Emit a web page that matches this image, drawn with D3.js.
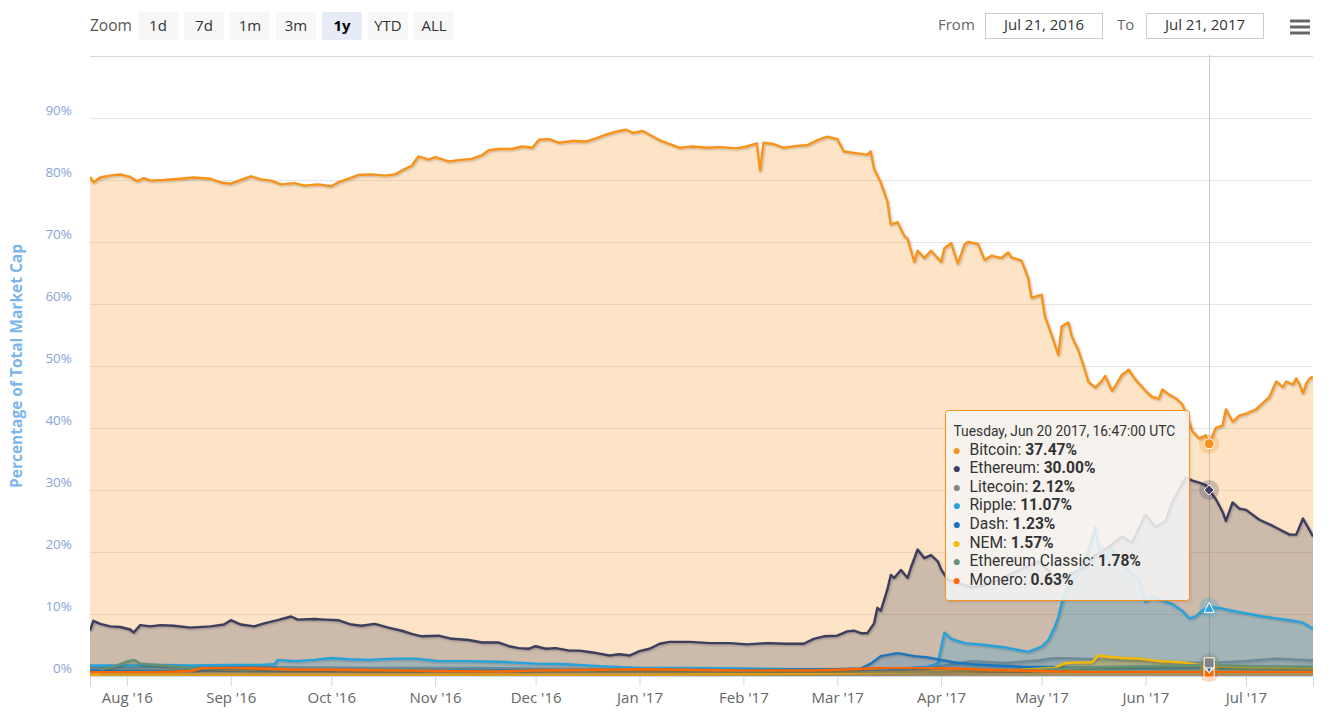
<!DOCTYPE html>
<html>
<head>
<meta charset="utf-8">
<script src="https://cdnjs.cloudflare.com/ajax/libs/d3/7.8.5/d3.min.js"></script>
<style>
  body { margin: 0; background: #fff; }
  svg { display: block; font-family: "Open Sans", sans-serif; }
</style>
</head>
<body>
<svg id="chart"></svg>
<script>
// percentage of total market cap
const bitcoin = [["2016-07-21",80.5],["2016-07-22",79.6],["2016-07-24",80.4],["2016-07-27",80.7],["2016-07-30",80.9],["2016-08-02",80.5],["2016-08-04",79.8],["2016-08-06",80.3],["2016-08-08",79.9],["2016-08-12",80.0],["2016-08-17",80.2],["2016-08-21",80.4],["2016-08-26",80.2],["2016-08-29",79.6],["2016-09-01",79.4],["2016-09-04",80.0],["2016-09-07",80.6],["2016-09-10",80.1],["2016-09-13",79.9],["2016-09-16",79.3],["2016-09-20",79.5],["2016-09-23",79.1],["2016-09-27",79.3],["2016-10-01",79.0],["2016-10-03",79.6],["2016-10-06",80.2],["2016-10-09",80.8],["2016-10-13",80.9],["2016-10-17",80.7],["2016-10-20",80.9],["2016-10-22",81.5],["2016-10-25",82.3],["2016-10-27",83.8],["2016-10-30",83.3],["2016-11-01",83.7],["2016-11-05",83.0],["2016-11-08",83.2],["2016-11-12",83.4],["2016-11-15",84.0],["2016-11-17",84.8],["2016-11-20",85.0],["2016-11-24",85.0],["2016-11-27",85.4],["2016-11-30",85.2],["2016-12-02",86.5],["2016-12-05",86.6],["2016-12-08",86.0],["2016-12-12",86.3],["2016-12-16",86.2],["2016-12-19",86.7],["2016-12-22",87.3],["2016-12-25",87.8],["2016-12-28",88.1],["2016-12-30",87.6],["2017-01-02",87.9],["2017-01-04",87.3],["2017-01-07",86.4],["2017-01-10",85.8],["2017-01-13",85.2],["2017-01-17",85.4],["2017-01-21",85.2],["2017-01-25",85.3],["2017-01-30",85.1],["2017-02-02",85.4],["2017-02-05",85.9],["2017-02-06",81.5],["2017-02-07",86.0],["2017-02-10",85.8],["2017-02-13",85.2],["2017-02-17",85.5],["2017-02-20",85.6],["2017-02-23",86.4],["2017-02-26",87.0],["2017-03-01",86.6],["2017-03-03",84.6],["2017-03-07",84.3],["2017-03-10",84.1],["2017-03-11",84.6],["2017-03-12",81.8],["2017-03-14",79.6],["2017-03-16",76.5],["2017-03-17",72.8],["2017-03-19",73.2],["2017-03-21",71.0],["2017-03-22",70.5],["2017-03-24",66.8],["2017-03-25",68.6],["2017-03-27",67.4],["2017-03-29",68.6],["2017-04-01",66.8],["2017-04-02",69.0],["2017-04-04",69.8],["2017-04-06",66.5],["2017-04-08",69.6],["2017-04-09",70.0],["2017-04-12",69.7],["2017-04-14",67.1],["2017-04-16",67.8],["2017-04-19",67.4],["2017-04-21",68.3],["2017-04-22",67.5],["2017-04-25",67.0],["2017-04-27",64.2],["2017-04-28",61.0],["2017-05-01",61.5],["2017-05-02",58.0],["2017-05-04",55.0],["2017-05-06",51.8],["2017-05-07",56.4],["2017-05-09",57.0],["2017-05-10",54.8],["2017-05-12",52.5],["2017-05-14",49.2],["2017-05-15",47.4],["2017-05-17",46.5],["2017-05-19",47.6],["2017-05-20",48.4],["2017-05-22",46.0],["2017-05-23",46.8],["2017-05-25",48.6],["2017-05-27",49.4],["2017-05-29",47.8],["2017-06-01",46.0],["2017-06-03",45.0],["2017-06-05",44.7],["2017-06-06",46.2],["2017-06-08",45.4],["2017-06-10",44.8],["2017-06-12",43.8],["2017-06-13",42.5],["2017-06-15",39.5],["2017-06-17",38.3],["2017-06-19",38.8],["2017-06-20",37.47],["2017-06-22",40.0],["2017-06-24",40.4],["2017-06-25",43.0],["2017-06-27",41.0],["2017-06-29",42.0],["2017-07-01",42.3],["2017-07-04",43.0],["2017-07-06",44.0],["2017-07-08",45.0],["2017-07-10",47.5],["2017-07-12",46.6],["2017-07-13",47.5],["2017-07-15",47.0],["2017-07-16",48.0],["2017-07-17",47.0],["2017-07-18",45.6],["2017-07-19",47.2],["2017-07-20",48.0],["2017-07-21",48.3]];

const ethereum = [["2016-07-21",7.3],["2016-07-22",8.9],["2016-07-24",8.4],["2016-07-27",8.0],["2016-07-30",7.9],["2016-08-02",7.5],["2016-08-03",7.0],["2016-08-05",8.2],["2016-08-08",8.0],["2016-08-11",8.2],["2016-08-15",8.1],["2016-08-20",7.8],["2016-08-26",8.0],["2016-08-30",8.3],["2016-09-01",9.0],["2016-09-04",8.3],["2016-09-08",8.0],["2016-09-11",8.5],["2016-09-15",9.0],["2016-09-19",9.6],["2016-09-21",9.1],["2016-09-26",9.2],["2016-09-29",9.1],["2016-10-03",9.0],["2016-10-07",8.3],["2016-10-10",8.1],["2016-10-14",8.4],["2016-10-18",7.8],["2016-10-22",7.3],["2016-10-25",6.8],["2016-10-28",6.4],["2016-11-02",6.5],["2016-11-06",6.0],["2016-11-11",5.8],["2016-11-15",5.4],["2016-11-20",5.4],["2016-11-23",4.8],["2016-11-26",4.5],["2016-11-29",4.4],["2016-12-01",4.8],["2016-12-04",4.4],["2016-12-07",4.5],["2016-12-11",4.1],["2016-12-14",4.1],["2016-12-18",3.8],["2016-12-23",3.3],["2016-12-26",3.5],["2016-12-29",3.3],["2017-01-01",4.0],["2017-01-04",4.4],["2017-01-07",5.2],["2017-01-10",5.5],["2017-01-16",5.5],["2017-01-22",5.3],["2017-01-28",5.3],["2017-02-02",5.1],["2017-02-08",5.3],["2017-02-14",5.2],["2017-02-19",5.2],["2017-02-22",6.0],["2017-02-25",6.4],["2017-03-01",6.5],["2017-03-04",7.2],["2017-03-06",7.3],["2017-03-08",6.9],["2017-03-10",6.9],["2017-03-12",8.5],["2017-03-13",11.0],["2017-03-14",10.5],["2017-03-16",14.0],["2017-03-17",16.3],["2017-03-18",15.8],["2017-03-20",17.1],["2017-03-22",15.8],["2017-03-23",17.5],["2017-03-25",20.4],["2017-03-27",19.0],["2017-03-29",19.5],["2017-03-31",18.5],["2017-04-01",17.2],["2017-04-03",15.5],["2017-04-06",15.0],["2017-04-10",14.3],["2017-04-14",14.6],["2017-04-18",15.5],["2017-04-22",16.5],["2017-04-26",17.5],["2017-04-30",18.5],["2017-05-03",17.0],["2017-05-06",15.5],["2017-05-10",16.5],["2017-05-14",17.5],["2017-05-17",19.5],["2017-05-21",20.8],["2017-05-25",22.5],["2017-05-28",21.5],["2017-06-01",26.0],["2017-06-04",24.0],["2017-06-07",25.0],["2017-06-09",28.0],["2017-06-11",30.0],["2017-06-13",32.0],["2017-06-15",31.5],["2017-06-17",31.2],["2017-06-19",30.8],["2017-06-20",30.0],["2017-06-22",28.5],["2017-06-24",26.5],["2017-06-25",25.0],["2017-06-27",28.0],["2017-06-29",27.0],["2017-07-01",26.8],["2017-07-05",25.2],["2017-07-09",24.2],["2017-07-14",22.8],["2017-07-16",22.8],["2017-07-18",25.4],["2017-07-20",23.5],["2017-07-21",22.5]];

const litecoin = [["2016-07-21",1.4],["2016-08-15",1.5],["2016-09-15",1.4],["2016-10-15",1.3],["2016-11-15",1.3],["2016-12-15",1.1],["2017-01-15",1.0],["2017-02-15",1.0],["2017-03-15",0.9],["2017-03-28",1.2],["2017-04-02",1.7],["2017-04-10",2.4],["2017-04-20",2.1],["2017-04-30",2.5],["2017-05-05",2.9],["2017-05-12",2.8],["2017-05-20",2.6],["2017-06-01",2.4],["2017-06-10",2.2],["2017-06-20",2.12],["2017-07-01",2.4],["2017-07-10",2.8],["2017-07-21",2.5]];

const ripple = [["2016-07-21",1.7],["2016-08-01",1.7],["2016-08-10",1.8],["2016-08-20",1.7],["2016-09-01",1.8],["2016-09-10",1.8],["2016-09-14",1.9],["2016-09-15",2.6],["2016-09-20",2.4],["2016-09-26",2.6],["2016-10-01",2.9],["2016-10-06",2.7],["2016-10-12",2.6],["2016-10-20",2.8],["2016-10-26",2.8],["2016-11-02",2.4],["2016-11-10",2.4],["2016-11-20",2.3],["2016-12-01",2.0],["2016-12-10",1.9],["2016-12-20",1.6],["2017-01-01",1.3],["2017-01-15",1.3],["2017-02-01",1.2],["2017-02-15",1.1],["2017-03-01",1.0],["2017-03-10",1.0],["2017-03-20",1.2],["2017-03-28",1.5],["2017-03-31",2.0],["2017-04-02",7.0],["2017-04-04",6.0],["2017-04-08",5.3],["2017-04-14",5.0],["2017-04-20",4.6],["2017-04-27",3.9],["2017-05-01",4.7],["2017-05-03",5.8],["2017-05-05",8.0],["2017-05-06",9.5],["2017-05-07",11.8],["2017-05-09",14.5],["2017-05-12",17.0],["2017-05-14",18.5],["2017-05-16",22.0],["2017-05-17",24.0],["2017-05-18",21.0],["2017-05-20",19.0],["2017-05-22",20.5],["2017-05-24",18.5],["2017-05-27",17.0],["2017-05-30",15.5],["2017-06-01",12.0],["2017-06-03",12.8],["2017-06-06",12.2],["2017-06-09",11.6],["2017-06-12",10.5],["2017-06-14",9.3],["2017-06-16",9.6],["2017-06-18",10.6],["2017-06-20",11.07],["2017-06-23",11.0],["2017-06-26",10.6],["2017-06-29",10.3],["2017-07-02",10.0],["2017-07-06",9.6],["2017-07-10",9.3],["2017-07-14",9.0],["2017-07-18",8.6],["2017-07-21",7.6]];

const dash = [["2016-07-21",0.9],["2016-08-15",0.8],["2016-09-15",0.8],["2016-10-15",0.8],["2016-11-15",0.9],["2016-12-15",0.9],["2017-01-15",0.9],["2017-02-15",1.0],["2017-03-01",1.1],["2017-03-08",1.2],["2017-03-11",2.0],["2017-03-14",3.2],["2017-03-19",3.7],["2017-03-24",3.2],["2017-03-28",3.0],["2017-04-01",2.6],["2017-04-05",2.2],["2017-04-10",1.9],["2017-04-17",1.7],["2017-04-25",1.5],["2017-05-05",1.4],["2017-05-20",1.3],["2017-06-05",1.2],["2017-06-20",1.23],["2017-07-05",1.3],["2017-07-21",1.2]];

const nem = [["2016-07-21",0.2],["2016-10-01",0.2],["2017-01-01",0.2],["2017-03-01",0.4],["2017-03-20",0.6],["2017-04-10",0.8],["2017-04-25",1.0],["2017-05-05",1.3],["2017-05-08",2.1],["2017-05-13",2.2],["2017-05-16",2.2],["2017-05-18",3.3],["2017-05-21",3.1],["2017-05-25",2.9],["2017-05-30",2.8],["2017-06-05",2.4],["2017-06-12",2.2],["2017-06-20",1.57],["2017-07-01",1.4],["2017-07-21",1.3]];

const ethereumClassic = [["2016-07-24",1.0],["2016-07-28",1.5],["2016-08-01",2.3],["2016-08-03",2.6],["2016-08-05",2.0],["2016-08-10",1.8],["2016-08-20",1.3],["2016-09-01",1.0],["2016-10-01",0.9],["2016-11-01",0.8],["2016-12-01",0.8],["2017-01-01",0.8],["2017-02-01",0.7],["2017-03-01",0.6],["2017-04-01",0.6],["2017-04-15",0.9],["2017-05-01",1.0],["2017-05-15",1.4],["2017-06-01",1.6],["2017-06-20",1.78],["2017-07-01",1.6],["2017-07-21",1.5]];

const monero = [["2016-07-21",0.6],["2016-08-10",0.6],["2016-08-20",0.8],["2016-08-24",1.3],["2016-09-01",1.4],["2016-09-10",1.2],["2016-09-20",1.0],["2016-10-01",1.0],["2016-10-20",0.9],["2016-11-01",0.8],["2016-11-20",0.7],["2016-12-01",0.9],["2016-12-20",1.0],["2017-01-01",1.1],["2017-01-15",1.0],["2017-02-01",0.9],["2017-02-20",0.9],["2017-03-01",1.0],["2017-03-20",1.4],["2017-04-01",1.3],["2017-04-15",1.0],["2017-05-01",0.8],["2017-05-15",0.6],["2017-06-01",0.6],["2017-06-20",0.63],["2017-07-21",0.6]];

const seriesNames = ["Bitcoin", "Ethereum", "Litecoin", "Ripple", "Dash", "NEM", "Ethereum Classic", "Monero"];
const seriesData = [bitcoin, ethereum, litecoin, ripple, dash, nem, ethereumClassic, monero];
const seriesColors = ["#f7931a", "#3c3c5d", "#838383", "#27a2db", "#1c75bc", "#f4b900", "#669073", "#ff6600"];
const markerShapes = ["circle", "diamond", "square", "triangle", "triangle-down", "circle", "diamond", "square"];

const yTicks = [0, 10, 20, 30, 40, 50, 60, 70, 80, 90];
const rangeButtons = ["1d", "7d", "1m", "3m", "1y", "YTD", "ALL"];
const selectedRange = "1y";
const fromLabel = "Jul 21, 2016";
const toLabel = "Jul 21, 2017";
const hoverDay = "2017-06-20";
const hoverTime = "2017-06-20T16:47:00Z";

const width = 1334, height = 724;
const plot = { left: 90, right: 1313, top: 56, bottom: 676 };

const parseDay = d3.utcParse("%Y-%m-%d");
const series = seriesNames.map((name, i) => ({
  name: name,
  color: seriesColors[i],
  shape: markerShapes[i],
  points: seriesData[i].map(p => ({ date: parseDay(p[0]), value: p[1] }))
}));

let svg = d3.select('#chart')
  .attr('width', width)
  .attr('height', height);

let defs = svg.append('defs');
defs.append('clipPath').attr('id', 'plot-clip')
  .append('rect')
    .attr('x', plot.left).attr('y', plot.top - 2)
    .attr('width', plot.right - plot.left).attr('height', plot.bottom - plot.top + 2);
let shadow = defs.append('filter').attr('id', 'line-shadow')
  .attr('x', '-5%').attr('y', '-5%').attr('width', '110%').attr('height', '110%');
shadow.append('feDropShadow')
  .attr('dx', 1).attr('dy', 1).attr('stdDeviation', 1.2)
  .attr('flood-color', '#000').attr('flood-opacity', 0.25);
let tipShadow = defs.append('filter').attr('id', 'tip-shadow');
tipShadow.append('feDropShadow')
  .attr('dx', 1).attr('dy', 1).attr('stdDeviation', 1.5)
  .attr('flood-color', '#000').attr('flood-opacity', 0.12);

let x = d3.scaleUtc()
  .domain([parseDay("2016-07-21"), parseDay("2017-07-21")])
  .range([plot.left, plot.right]);
let y = d3.scaleLinear()
  .domain([0, 100])
  .range([plot.bottom, plot.top]);

// range selector
svg.append('text')
  .attr('x', 90).attr('y', 31)
  .attr('font-size', 15.5).attr('fill', '#555')
  .text('Zoom');
let btn = svg.selectAll('g.btn')
  .data(rangeButtons)
  .enter()
  .append('g')
    .attr('class', 'btn')
    .attr('transform', (d, i) => `translate(${138 + i * 46},12)`);
btn.append('rect')
  .attr('width', 40).attr('height', 28).attr('rx', 2)
  .attr('fill', d => d === selectedRange ? '#e6ebf5' : '#f7f7f7');
btn.append('text')
  .attr('x', 20).attr('y', 19)
  .attr('text-anchor', 'middle')
  .attr('font-size', 15)
  .attr('font-weight', d => d === selectedRange ? 'bold' : 'normal')
  .attr('fill', d => d === selectedRange ? '#000' : '#333')
  .text(d => d);

// date inputs
[[938, 'From', 985, fromLabel], [1117, 'To', 1146, toLabel]].forEach(([lx, label, bx, value]) => {
  svg.append('text')
    .attr('x', lx).attr('y', 30)
    .attr('font-size', 15).attr('fill', '#666')
    .text(label);
  svg.append('rect')
    .attr('x', bx + 0.5).attr('y', 13.5)
    .attr('width', 117).attr('height', 25)
    .attr('fill', '#fff').attr('stroke', '#ccc');
  svg.append('text')
    .attr('x', bx + 59).attr('y', 30)
    .attr('text-anchor', 'middle')
    .attr('font-size', 15).attr('fill', '#333')
    .text(value);
});

// menu icon
[21, 27, 33].forEach(yy => {
  svg.append('line')
    .attr('x1', 1290).attr('x2', 1310)
    .attr('y1', yy).attr('y2', yy)
    .attr('stroke', '#666').attr('stroke-width', 3);
});

// grid
svg.append('g')
  .selectAll('line')
  .data(yTicks.concat([100]))
  .enter()
  .append('line')
    .attr('x1', plot.left).attr('x2', plot.right)
    .attr('y1', d => Math.round(y(d)) + 0.5)
    .attr('y2', d => Math.round(y(d)) + 0.5)
    .attr('stroke', d => d === 100 ? '#d8d8d8' : '#e6e6e6');

svg.append('g')
  .selectAll('text')
  .data(yTicks)
  .enter()
  .append('text')
    .attr('x', 72)
    .attr('y', d => y(d) - 3)
    .attr('text-anchor', 'end')
    .attr('font-size', 13.5)
    .attr('fill', '#8aa4d8')
    .text(d => d + '%');

svg.append('text')
  .attr('transform', 'translate(22,366) rotate(-90)')
  .attr('text-anchor', 'middle')
  .attr('font-size', 15.5)
  .attr('font-weight', 'bold')
  .attr('fill', '#7cb5ec')
  .text('Percentage of Total Market Cap');

// x axis
let xAxis = d3.axisBottom(x)
  .ticks(d3.utcMonth.every(1))
  .tickFormat(d3.utcFormat("%b '%y"))
  .tickSize(10)
  .tickPadding(6);
let xg = svg.append('g')
  .attr('transform', `translate(0,${plot.bottom})`)
  .call(xAxis);
xg.select('.domain').attr('stroke', '#ccd6eb');
xg.selectAll('.tick line').attr('stroke', '#ccd6eb');
xg.selectAll('.tick text')
  .attr('font-family', '"Open Sans", sans-serif')
  .attr('font-size', 15)
  .attr('fill', '#666');

// crosshair
let hx = x(parseDay(hoverDay));
svg.append('line')
  .attr('x1', Math.round(hx) + 0.5).attr('x2', Math.round(hx) + 0.5)
  .attr('y1', plot.top - 1).attr('y2', plot.bottom)
  .attr('stroke', '#cccccc');

// series
let area = d3.area()
  .x(d => x(d.date))
  .y0(y(0))
  .y1(d => y(d.value));
let line = d3.line()
  .x(d => x(d.date))
  .y(d => y(d.value));

let plotG = svg.append('g').attr('clip-path', 'url(#plot-clip)');
series.forEach(s => {
  let g = plotG.append('g');
  g.append('path')
    .attr('d', area(s.points))
    .attr('fill', s.color)
    .attr('fill-opacity', 0.25);
  g.append('path')
    .attr('d', line(s.points))
    .attr('fill', 'none')
    .attr('stroke', s.color)
    .attr('stroke-width', 2.4)
    .attr('stroke-linejoin', 'round')
    .attr('filter', 'url(#line-shadow)');
});

// hover markers
function markerPath(shape, r) {
  if (shape === 'diamond') return `M0,${-r}L${r},0L0,${r}L${-r},0Z`;
  if (shape === 'square') return `M${-r},${-r}H${r}V${r}H${-r}Z`;
  if (shape === 'triangle') return `M0,${-r}L${r},${r}H${-r}Z`;
  if (shape === 'triangle-down') return `M${-r},${-r}H${r}L0,${r}Z`;
  return `M${-r},0A${r},${r} 0 1,0 ${r},0A${r},${r} 0 1,0 ${-r},0Z`;
}
let hoverPoints = series.map(s => {
  let p = s.points.find(q => +q.date === +parseDay(hoverDay));
  return { s: s, value: p.value };
});
let markers = svg.append('g');
hoverPoints.forEach(h => {
  markers.append('circle')
    .attr('cx', hx).attr('cy', y(h.value))
    .attr('r', 10)
    .attr('fill', h.s.color)
    .attr('fill-opacity', 0.25);
});
hoverPoints.slice().reverse().forEach(h => {
  markers.append('path')
    .attr('transform', `translate(${hx},${y(h.value)})`)
    .attr('d', markerPath(h.s.shape, 5))
    .attr('fill', h.s.color)
    .attr('stroke', '#fff')
    .attr('stroke-width', 1);
});

// tooltip (Roboto's tighter line box keeps the 18.6px rows apart)
let tip = svg.append('g')
  .attr('transform', 'translate(945.5,410.5)')
  .attr('font-family', 'Roboto, sans-serif');
tip.append('rect')
  .attr('width', 244).attr('height', 190).attr('rx', 3)
  .attr('fill', 'rgba(247,247,247,0.85)')
  .attr('stroke', seriesColors[0])
  .attr('filter', 'url(#tip-shadow)');
tip.append('text')
  .attr('x', 8).attr('y', 25)
  .attr('font-size', 13.8).attr('fill', '#333')
  .text(d3.utcFormat("%A, %b %d %Y, %H:%M:%S UTC")(new Date(hoverTime)));
let rows = tip.selectAll('g.row')
  .data(hoverPoints)
  .enter()
  .append('g')
    .attr('class', 'row')
    .attr('transform', (d, i) => `translate(0,${44 + i * 18.6})`);
rows.append('text')
  .attr('x', 7).attr('y', 0)
  .attr('font-size', 14)
  .attr('fill', d => d.s.color)
  .text('\u25CF');
let rowText = rows.append('text')
  .attr('x', 24).attr('y', 0)
  .attr('font-size', 15.6).attr('fill', '#333');
rowText.append('tspan').text(d => d.s.name + ': ');
rowText.append('tspan')
  .attr('font-weight', 'bold')
  .text(d => d3.format('.2f')(d.value) + '%');
</script>
</body>
</html>
